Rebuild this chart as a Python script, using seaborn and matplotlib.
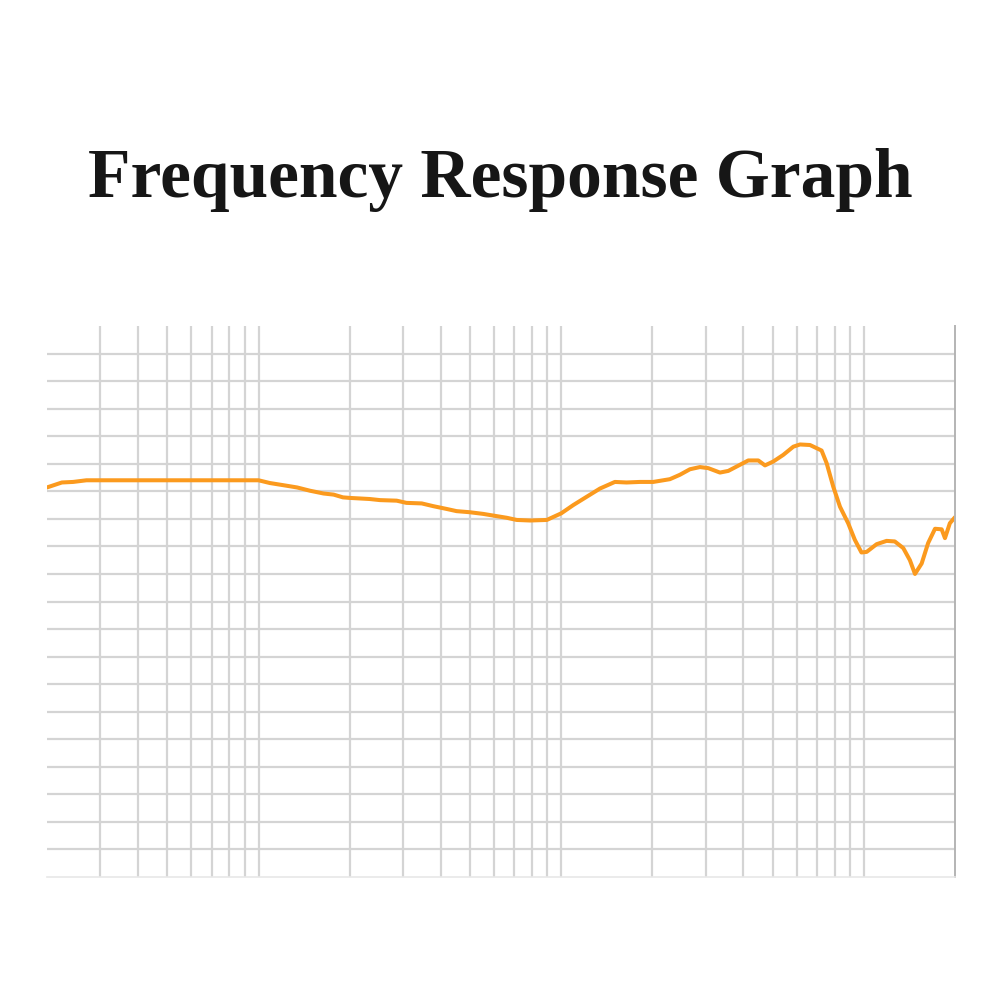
import matplotlib.pyplot as plt
import numpy as np
import pandas as pd
import seaborn as sns

# frequency (Hz) and level (dB)
freq_hz = [20, 22.4, 24.4, 27, 100, 109, 121, 134, 148, 164, 177, 190, 200, 216,
           233, 252, 286, 308, 346, 378, 418, 451, 499, 552, 611, 660, 713, 789,
           896, 1000, 1096, 1213, 1343, 1504, 1644, 1820, 2014, 2286, 2467, 2662,
           2873, 3062, 3345, 3564, 3892, 4150, 4478, 4712, 5017, 5412, 5847, 6152,
           6636, 7248, 7533, 7925, 8337, 8873, 9333, 9817, 10210, 11017, 11885,
           12650, 13490, 14190, 14750, 15520, 16300, 17180, 18070, 18530, 19230, 20000]
level_db = [20.7, 21.6, 21.7, 22.0, 22.0, 21.5, 21.1, 20.7, 20.1, 19.6, 19.4, 18.9,
            18.8, 18.7, 18.6, 18.4, 18.3, 17.9, 17.8, 17.3, 16.8, 16.4, 16.2, 15.9,
            15.5, 15.2, 14.8, 14.7, 14.8, 16.0, 17.5, 19.0, 20.5, 21.7, 21.6, 21.7,
            21.7, 22.2, 23.0, 24.0, 24.4, 24.2, 23.4, 23.7, 24.8, 25.6, 25.6, 24.7,
            25.4, 26.6, 28.1, 28.5, 28.4, 27.4, 25.1, 20.8, 17.2, 14.2, 11.2, 8.9,
            9.0, 10.4, 11.0, 10.9, 9.7, 7.5, 5.0, 6.9, 10.6, 13.2, 13.1, 11.5, 14.2, 15.3]

major_x = [100, 1000, 10000]
minor_x = [30, 40, 50, 60, 70, 80, 90,
           200, 300, 400, 500, 600, 700, 800, 900,
           2000, 3000, 4000, 5000, 6000, 7000, 8000, 9000]
y_grid = list(range(-45, 50, 5))

df = pd.DataFrame({"freq": freq_hz, "db": level_db})

sns.set_style("white")
fig = plt.figure(figsize=(10, 10), dpi=100)
ax = fig.add_axes([0.047, 0.123, 0.908, 0.551])

sns.lineplot(data=df, x="freq", y="db", ax=ax, color="#FB9A1E", linewidth=2.9)

ax.set_xscale("log")
ax.set_xlim(20, 20000)
ax.set_ylim(-50, 50)
ax.set_xticks(major_x)
ax.set_xticks(minor_x, minor=True)
ax.set_yticks(y_grid)
ax.grid(True, which="both", axis="x", color="#d4d4d4", linewidth=1.6)
ax.grid(True, which="major", axis="y", color="#d4d4d4", linewidth=1.6)
ax.set_axisbelow(True)
ax.tick_params(which="both", length=0, labelbottom=False, labelleft=False)
ax.set_xlabel("")
ax.set_ylabel("")

for side in ["top", "left"]:
    ax.spines[side].set_visible(False)
ax.spines["bottom"].set_color("#e8e8e8")
ax.spines["bottom"].set_linewidth(1.2)
ax.spines["right"].set_color("#b4b4b4")
ax.spines["right"].set_linewidth(1.4)

fig.text(0.5, 0.82, "Frequency Response Graph", ha="center", va="center",
         fontsize=50, fontweight="bold", family="Liberation Serif", color="#161616")

plt.savefig("out.png", dpi=100)
